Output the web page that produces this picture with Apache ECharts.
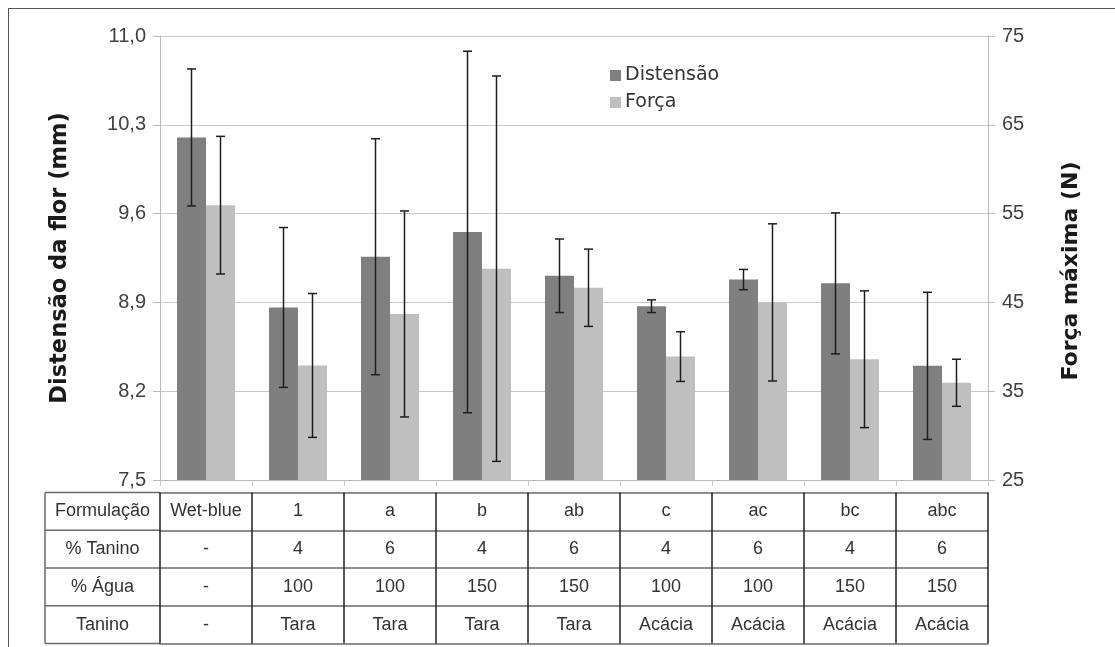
<!DOCTYPE html>
<html>
<head>
<meta charset="utf-8">
<script src="https://cdn.jsdelivr.net/npm/echarts@6/dist/echarts.min.js"></script>
<style>
  html, body { margin: 0; padding: 0; background: #fff; }
  #wrap { position: relative; width: 1115px; height: 647px; overflow: hidden; }
  #chart { position: absolute; left: 0; top: 0; width: 1115px; height: 647px; }
  #frame { position: absolute; left: 8px; top: 8px; right: -2px; bottom: -2px;
           border-left: 1.5px solid #555; border-top: 1.5px solid #555; pointer-events: none; }
</style>
</head>
<body>
<div id="wrap"><div id="chart"></div><div id="frame"></div></div>
<script>
// ---- data ----
const formulacao = ['Wet-blue', '1', 'a', 'b', 'ab', 'c', 'ac', 'bc', 'abc'];
const taninoPct  = ['-', '4', '6', '4', '6', '4', '6', '4', '6'];
const aguaPct    = ['-', '100', '100', '150', '150', '100', '100', '150', '150'];
const taninoTipo = ['-', 'Tara', 'Tara', 'Tara', 'Tara', 'Acácia', 'Acácia', 'Acácia', 'Acácia'];
const rowHeaders = ['Formulação', '% Tanino', '% Água', 'Tanino'];

const distensao    = [10.20, 8.86, 9.26, 9.455, 9.11, 8.87, 9.08, 9.05, 8.40];
const distensaoErr = [0.54, 0.63, 0.93, 1.425, 0.29, 0.05, 0.08, 0.556, 0.58];
const forca        = [55.95, 37.9, 43.7, 48.8, 46.65, 38.9, 45.0, 38.6, 35.95];
const forcaErr     = [7.75, 8.1, 11.6, 21.7, 4.35, 2.8, 8.85, 7.7, 2.65];

const leftTicks  = { min: 7.5, max: 11.0, interval: 0.7 };
const rightTicks = { min: 25, max: 75, interval: 10 };

// ---- layout ----
const gridL = 160, gridR = 127, gridT = 36, gridB = 167;
const tableTop = 12.5, rowH = 37.75;
const tableFont = 'Liberation Sans';
const tableRows = [formulacao, taninoPct, aguaPct, taninoTipo];

const chart = echarts.init(document.getElementById('chart'));

const xAxes = [{
  type: 'category', gridIndex: 0, data: formulacao, position: 'bottom',
  axisLine: { lineStyle: { color: '#b8b8b8', width: 1 } },
  axisTick: { show: true, length: 6, lineStyle: { color: '#c8c8c8' } },
  axisLabel: { show: false }, splitLine: { show: false }
}];
tableRows.forEach((row, r) => {
  xAxes.push({
    type: 'category', gridIndex: 0, data: formulacao, position: 'bottom',
    offset: tableTop + r * rowH,
    name: rowHeaders[r], nameLocation: 'start', nameGap: 57.5,
    nameTextStyle: { align: 'center', verticalAlign: 'top', lineHeight: rowH,
      fontFamily: tableFont, fontSize: 18, color: '#333' },
    axisLine: { show: true, lineStyle: { color: '#6a6a6a', width: 1.5 } },
    axisTick: { show: true, alignWithLabel: false, length: rowH, lineStyle: { color: '#222', width: 1.5 } },
    axisLabel: { show: true, interval: 0, margin: 0, verticalAlign: 'top', lineHeight: rowH,
      fontFamily: tableFont, fontSize: 18, color: '#333',
      formatter: (v, i) => row[i] },
    splitLine: { show: false }
  });
});
// bottom border line of the table
xAxes.push({
  type: 'category', gridIndex: 0, data: formulacao, position: 'bottom',
  offset: tableTop + 4 * rowH,
  axisLine: { show: true, lineStyle: { color: '#6a6a6a', width: 1.5 } },
  axisTick: { show: false }, axisLabel: { show: false }, splitLine: { show: false }
});

function errRender(frac) {
  return function (params, api) {
    const i = api.value(0), v = api.value(1), e = api.value(2);
    const band = api.size([1, 0])[0];
    const dx = band * frac;
    const top = api.coord([i, v + e]);
    const bot = api.coord([i, v - e]);
    const x = top[0] + dx;
    const cap = 4.5;
    const st = { stroke: '#1e1e1e', lineWidth: 1.5 };
    return {
      type: 'group',
      children: [
        { type: 'line', shape: { x1: x, y1: top[1], x2: x, y2: bot[1] }, style: st },
        { type: 'line', shape: { x1: x - cap, y1: top[1], x2: x + cap, y2: top[1] }, style: st },
        { type: 'line', shape: { x1: x - cap, y1: bot[1], x2: x + cap, y2: bot[1] }, style: st }
      ]
    };
  };
}

const hdrLeft = 45, hdrRight = gridL, tableY0 = 480 + tableTop;
const hdrLines = [];
for (let r = 0; r <= 4; r++) {
  const y = tableY0 + r * rowH;
  hdrLines.push({ type: 'line', shape: { x1: hdrLeft, y1: y, x2: hdrRight, y2: y },
    style: { stroke: '#6a6a6a', lineWidth: 1.5 }, silent: true });
}
hdrLines.push({ type: 'line', shape: { x1: hdrLeft, y1: tableY0, x2: hdrLeft, y2: tableY0 + 4 * rowH },
  style: { stroke: '#6a6a6a', lineWidth: 1.5 }, silent: true });

chart.setOption({
  animation: false,
  backgroundColor: '#fff',
  grid: { left: gridL, right: gridR, top: gridT, bottom: gridB, containLabel: false },
  legend: {
    data: ['Distensão', 'Força'], orient: 'vertical', left: 605, top: 61,
    icon: 'rect', itemWidth: 11, itemHeight: 11, itemGap: 8,
    textStyle: { fontFamily: 'DejaVu Sans', fontSize: 19, color: '#333', padding: [0, 0, 0, -1] }
  },
  xAxis: xAxes,
  yAxis: [{
    type: 'value', min: leftTicks.min, max: leftTicks.max, interval: leftTicks.interval,
    name: 'Distensão da flor (mm)', nameLocation: 'middle', nameGap: 88, nameRotate: 90,
    nameTextStyle: { fontFamily: 'DejaVu Sans', fontWeight: 'bold', fontSize: 22.5, color: '#1a1a1a' },
    axisLine: { show: true, lineStyle: { color: '#b8b8b8' } },
    axisTick: { show: true, length: 7, lineStyle: { color: '#b8b8b8' } },
    axisLabel: { margin: 14, fontFamily: 'Liberation Sans', fontSize: 20, color: '#404040',
      formatter: v => v.toFixed(1).replace('.', ',') },
    splitLine: { show: true, lineStyle: { color: '#c8c8c8', width: 1 } }
  }, {
    type: 'value', min: rightTicks.min, max: rightTicks.max, interval: rightTicks.interval,
    position: 'right',
    name: 'Força máxima (N)', nameLocation: 'middle', nameGap: 72, nameRotate: 90,
    nameTextStyle: { fontFamily: 'DejaVu Sans', fontWeight: 'bold', fontSize: 22, color: '#1a1a1a',
      padding: [0, 26, 0, 0] },
    axisLine: { show: true, lineStyle: { color: '#b8b8b8' } },
    axisTick: { show: true, length: 7, lineStyle: { color: '#b8b8b8' } },
    axisLabel: { margin: 14, fontFamily: 'Liberation Sans', fontSize: 20, color: '#404040' },
    splitLine: { show: false }
  }],
  series: [{
    name: 'Distensão', type: 'bar', xAxisIndex: 0, yAxisIndex: 0,
    data: distensao, barWidth: 29, barGap: '0%',
    itemStyle: { color: '#7f7f7f' }
  }, {
    name: 'Força', type: 'bar', xAxisIndex: 0, yAxisIndex: 1,
    data: forca, barWidth: 29, barGap: '0%',
    itemStyle: { color: '#bfbfbf' }
  }, {
    name: 'errD', type: 'custom', xAxisIndex: 0, yAxisIndex: 0, z: 5,
    renderItem: errRender(-0.1576),
    encode: { x: 0, y: 1 },
    data: distensao.map((v, i) => [i, v, distensaoErr[i]])
  }, {
    name: 'errF', type: 'custom', xAxisIndex: 0, yAxisIndex: 1, z: 5,
    renderItem: errRender(0.1576),
    encode: { x: 0, y: 1 },
    data: forca.map((v, i) => [i, v, forcaErr[i]])
  }],
  graphic: hdrLines
});
</script>
</body>
</html>
